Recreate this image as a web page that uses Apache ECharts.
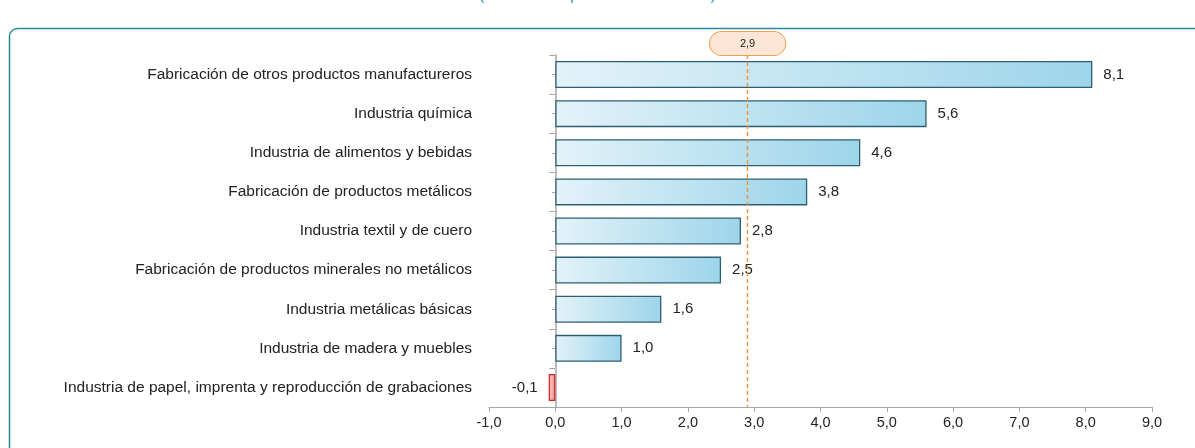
<!DOCTYPE html>
<html>
<head>
<meta charset="utf-8">
<script src="https://cdn.jsdelivr.net/npm/echarts@6/dist/echarts.min.js"></script>
<style>
  html, body { margin: 0; padding: 0; background: #fff; }
  #chart { width: 1195px; height: 448px; }
</style>
</head>
<body>
<div id="chart"></div>
<script>
  var categories = [
    'Fabricación de otros productos manufactureros',
    'Industria química',
    'Industria de alimentos y bebidas',
    'Fabricación de productos metálicos',
    'Industria textil y de cuero',
    'Fabricación de productos minerales no metálicos',
    'Industria metálicas básicas',
    'Industria de madera y muebles',
    'Industria de papel, imprenta y reproducción de grabaciones'
  ]
  var values = [8.1, 5.6, 4.6, 3.8, 2.8, 2.5, 1.6, 1.0, -0.1]
  var average = 2.9
  var xTicks = { min: -1, max: 9, interval: 1 }

  function fmt (v) {
    return v.toFixed(1).replace('.', ',')
  }

  var blueFill = new echarts.graphic.LinearGradient(0, 0, 1, 0, [
    { offset: 0, color: '#e3f2f9' },
    { offset: 1, color: '#9dd5ea' }
  ])
  var redFill = new echarts.graphic.LinearGradient(0, 0, 1, 0, [
    { offset: 0, color: '#f9c9c9' },
    { offset: 1, color: '#f08f8f' }
  ])

  var myChart = echarts.init(document.getElementById('chart'))
  var option = {
    animation: false,
    textStyle: { fontFamily: 'Liberation Sans, Arial, sans-serif' },
    graphic: [
      {
        type: 'rect',
        shape: { x: 9.5, y: 28.5, width: 1200, height: 440, r: 8 },
        style: { fill: 'none', stroke: '#2a8a95', lineWidth: 1.5 },
        silent: true
      },
      {
        type: 'text',
        left: 'center',
        top: -16,
        style: { text: '(Variación porcentual en %)', fill: '#4fb3c0', font: '19.5px Liberation Sans, Arial, sans-serif' },
        silent: true
      }
    ],
    grid: { left: 489, right: 43, top: 55, bottom: 41 },
    xAxis: {
      type: 'value',
      min: xTicks.min,
      max: xTicks.max,
      interval: xTicks.interval,
      splitLine: { show: false },
      axisLine: { show: true, lineStyle: { color: '#a6a6a6' } },
      axisTick: { show: true, length: 5, lineStyle: { color: '#a6a6a6' } },
      axisLabel: { color: '#222', fontSize: 14.5, margin: 8, formatter: function (v) { return fmt(v) } }
    },
    yAxis: [
      {
        type: 'category',
        data: categories,
        inverse: true,
        axisLine: { onZero: true, lineStyle: { color: '#a6a6a6', width: 1.5 } },
        axisTick: { show: true, length: 6, lineStyle: { color: '#a6a6a6' } },
        axisLabel: { color: '#222', fontSize: 15.5, margin: 17 }
      },
      {
        type: 'category',
        data: categories,
        inverse: true,
        position: 'left',
        offset: -66,
        axisLine: { show: false },
        axisTick: { show: true, alignWithLabel: true, length: 3, lineStyle: { color: '#a6a6a6' } },
        axisLabel: { show: false }
      }
    ],
    series: [
      {
        type: 'bar',
        data: values.map(function (v) {
          var neg = v < 0
          return {
            value: v,
            itemStyle: {
              color: neg ? redFill : blueFill,
              borderColor: neg ? '#d42a2a' : '#2e5f70',
              borderWidth: 1.3
            },
            label: { position: neg ? 'left' : 'right' }
          }
        }),
        barWidth: '69%',
        label: {
          show: true,
          distance: 11,
          color: '#222',
          fontSize: 15,
          formatter: function (p) { return fmt(p.value) }
        },
        markLine: {
          silent: true,
          symbol: 'none',
          lineStyle: { color: '#f0923a', type: [4, 3], width: 1.4 },
          label: {
            show: true,
            position: 'start',
            distance: 0,
            formatter: fmt(average),
            fontSize: 11,
            color: '#222',
            backgroundColor: '#fde6d6',
            borderColor: '#f0a050',
            borderWidth: 1,
            borderRadius: 12,
            padding: [6, 30]
          },
          data: [{ xAxis: average }]
        }
      }
    ]
  }
  myChart.setOption(option)
</script>
</body>
</html>
